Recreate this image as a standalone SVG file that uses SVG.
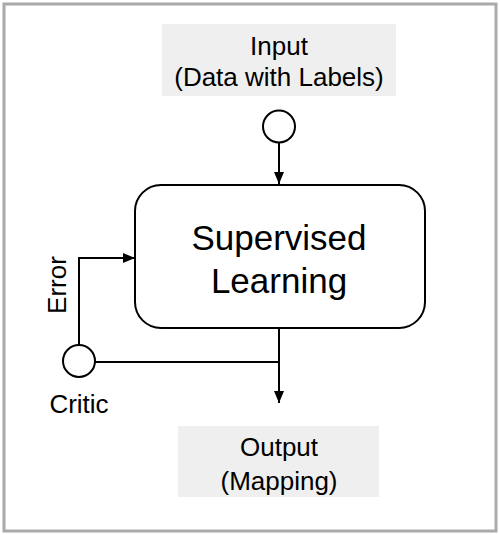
<svg xmlns="http://www.w3.org/2000/svg" width="500" height="535" viewBox="0 0 500 535">
<style>
text{font-family:"Liberation Sans",Arial,sans-serif;fill:#000;text-anchor:middle}
.lbl{font-size:26px}
.big{font-size:35px}
.conn{stroke:#000;stroke-width:2;fill:none}
.circ{fill:#fff;stroke:#000;stroke-width:2}
.tag{fill:#efefef}
</style>
<defs>
<marker id="arr" viewBox="0 0 12 10" refX="12" refY="5" markerWidth="12" markerHeight="10" markerUnits="userSpaceOnUse" orient="auto">
<path d="M0,0 L12,5 L0,10 Z" fill="#000"/>
</marker>
</defs>
<rect x="0" y="0" width="500" height="535" fill="#fff"/>
<rect x="4" y="4" width="492" height="527" fill="none" stroke="#aaa" stroke-width="3"/>
<g id="input">
<rect class="tag" x="162" y="24" width="234" height="72"/>
<text class="lbl" x="279" y="55">Input</text>
<text class="lbl" x="279" y="86">(Data with Labels)</text>
</g>
<g id="input-port"><circle class="circ" cx="279" cy="126.5" r="16"/></g>
<g id="learning">
<rect x="135" y="185" width="290" height="143" rx="26" fill="#fff" stroke="#000" stroke-width="2"/>
<text class="big" x="279" y="250">Supervised</text>
<text class="big" x="279" y="293">Learning</text>
</g>
<g id="critic">
<circle class="circ" cx="79" cy="361" r="16"/>
<text class="lbl" x="79" y="413">Critic</text>
</g>
<g id="output">
<rect class="tag" x="178" y="426" width="201" height="71"/>
<text class="lbl" x="279" y="456">Output</text>
<text class="lbl" x="279" y="490">(Mapping)</text>
</g>
<g id="connectors">
<path class="conn" d="M279,143 V184" marker-end="url(#arr)"/>
<path class="conn" d="M279,328 V403" marker-end="url(#arr)"/>
<path class="conn" d="M95,362 H279"/>
<path class="conn" d="M79,345 V258 H135" marker-end="url(#arr)"/>
<text class="lbl" transform="translate(66,285) rotate(-90)">Error</text>
</g>
</svg>
